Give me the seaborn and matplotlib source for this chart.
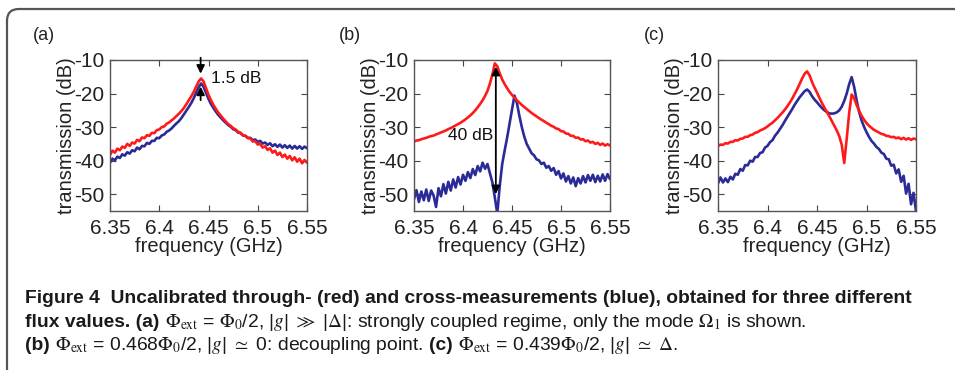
import numpy as np
import matplotlib
matplotlib.use("Agg")
import matplotlib.pyplot as plt
import seaborn as sns
from matplotlib import font_manager
from matplotlib.patches import FancyBboxPatch
from matplotlib.transforms import IdentityTransform

# frequency sampling (GHz), 0.0025 GHz steps
freq = np.linspace(6.35, 6.55, 81)

# (a) strongly coupled regime
red_a = [-38.3, -37.0, -37.6, -36.4, -36.9, -35.8, -36.2, -35.0, -35.6, -34.6,
         -34.9, -33.8, -34.2, -33.1, -33.3, -32.4, -32.6, -31.7, -31.8, -30.9,
         -30.7, -30.0, -29.8, -29.0, -28.6, -28.0, -27.4, -26.7, -26.0, -25.2,
         -24.3, -23.2, -22.0, -20.8, -19.5, -17.9, -16.4, -15.5, -16.4, -18.4,
         -20.4, -22.0, -23.4, -24.6, -25.7, -26.6, -27.5, -28.3, -29.1, -29.6,
         -30.3, -30.7, -31.4, -31.7, -32.4, -32.6, -33.3, -33.4, -34.3, -34.2,
         -35.2, -35.0, -36.1, -35.7, -36.8, -36.3, -37.6, -37.0, -38.3, -37.6,
         -38.9, -38.2, -39.4, -38.6, -39.9, -39.0, -40.3, -39.4, -40.8, -39.8,
         -40.6]
blue_a = [-40.6, -39.4, -39.9, -38.8, -39.2, -38.1, -38.5, -37.5, -37.9, -36.9,
          -37.2, -36.1, -36.6, -35.6, -35.7, -34.7, -35.0, -34.1, -34.1, -33.2,
          -33.3, -32.5, -32.2, -31.4, -31.0, -30.4, -29.6, -28.9, -28.2, -27.3,
          -26.2, -25.1, -24.0, -22.8, -21.4, -19.7, -18.1, -17.0, -18.0, -19.8,
          -21.6, -23.1, -24.3, -25.4, -26.4, -27.2, -28.0, -28.7, -29.4, -29.9,
          -30.6, -30.9, -31.6, -31.8, -32.5, -32.6, -33.2, -33.2, -33.9, -33.7,
          -34.4, -34.1, -34.9, -34.6, -35.3, -34.8, -35.7, -35.1, -35.9, -35.2,
          -36.1, -35.4, -36.2, -35.5, -36.4, -35.6, -36.4, -35.7, -36.5, -35.8,
          -36.3]

# (b) decoupling point
red_b = [-34.3, -34.0, -33.9, -33.6, -33.4, -33.2, -32.9, -32.7, -32.5, -32.2,
         -31.9, -31.6, -31.3, -31.0, -30.6, -30.3, -29.9, -29.5, -29.1, -28.7,
         -28.2, -27.7, -27.1, -26.5, -25.8, -25.0, -24.1, -23.1, -22.0, -20.7,
         -19.2, -17.0, -14.3, -11.0, -11.9, -14.0, -15.8, -17.2, -18.4, -19.5,
         -20.4, -21.2, -22.0, -22.7, -23.4, -24.0, -24.6, -25.2, -25.8, -26.3,
         -26.8, -27.3, -27.8, -28.2, -28.7, -29.1, -29.6, -29.9, -30.4, -30.6,
         -31.2, -31.3, -31.9, -32.0, -32.6, -32.6, -33.2, -33.1, -33.7, -33.6,
         -34.2, -34.0, -34.6, -34.4, -35.0, -34.7, -35.3, -34.9, -35.5, -35.1,
         -35.5]
blue_b = [-51.5, -48.8, -52.3, -49.2, -51.8, -48.6, -52.0, -48.9, -50.4, -53.8,
          -48.2, -50.6, -47.0, -49.8, -46.3, -48.9, -45.6, -48.0, -44.9, -47.1,
          -44.2, -46.0, -43.4, -45.2, -42.5, -44.3, -41.6, -43.2, -40.6, -42.4,
          -41.0, -43.8, -46.5, -51.0, -55.8, -47.5, -41.0, -37.0, -33.2, -29.0,
          -24.8, -20.6, -22.8, -26.6, -30.0, -32.8, -35.0, -36.4, -37.8, -38.4,
          -39.6, -39.9, -41.0, -40.6, -42.1, -41.6, -43.0, -42.2, -44.2, -43.1,
          -45.3, -43.8, -46.2, -44.6, -46.8, -45.0, -47.6, -45.2, -46.8, -44.6,
          -46.5, -44.3, -46.0, -44.2, -46.4, -44.5, -46.2, -44.1, -46.0, -44.0,
          -45.5]

# (c) |g| ~ Delta
red_c = [-35.7, -35.2, -35.3, -34.8, -34.9, -34.4, -34.4, -33.9, -34.0, -33.5,
         -33.4, -32.9, -32.9, -32.4, -32.2, -31.7, -31.5, -31.0, -30.7, -30.3,
         -29.8, -29.2, -28.7, -28.0, -27.3, -26.5, -25.7, -24.8, -23.8, -22.7,
         -21.5, -20.1, -18.7, -17.1, -15.5, -14.1, -13.4, -14.6, -16.6, -18.2,
         -19.7, -21.3, -22.8, -24.2, -25.5, -26.8, -28.2, -29.6, -31.0, -32.7,
         -35.3, -40.7, -33.5, -25.8, -20.3, -21.4, -23.4, -25.1, -26.6, -27.8,
         -28.8, -29.6, -30.2, -30.8, -31.2, -31.6, -32.0, -32.2, -32.6, -32.7,
         -33.0, -32.9, -33.3, -33.1, -33.6, -33.2, -33.7, -33.3, -33.8, -33.4,
         -33.6]
blue_c = [-46.8, -45.0, -46.5, -45.3, -46.4, -44.8, -45.6, -43.9, -44.2, -42.5,
          -43.0, -41.3, -41.4, -40.0, -40.3, -38.9, -38.9, -37.7, -37.5, -36.1,
          -35.6, -34.5, -33.9, -32.6, -31.7, -30.6, -29.5, -28.2, -27.0, -25.8,
          -24.6, -23.3, -22.2, -21.1, -20.2, -19.3, -18.8, -19.5, -20.8, -21.8,
          -22.6, -23.5, -24.3, -25.0, -25.5, -25.9, -26.0, -25.9, -25.6, -25.0,
          -23.9, -22.2, -20.0, -17.2, -15.1, -18.0, -22.0, -25.4, -28.0, -29.9,
          -31.5, -32.9, -34.1, -34.9, -35.9, -36.5, -37.6, -38.0, -39.4, -39.6,
          -41.5, -41.2, -43.8, -42.6, -46.3, -44.5, -49.8, -46.9, -53.0, -49.6,
          -55.0]

xticks = [6.35, 6.40, 6.45, 6.50, 6.55]
xtick_labels = ["6.35", "6.4", "6.45", "6.5", "6.55"]
yticks = [-50, -40, -30, -20, -10]
panel_tags = ["(a)", "(b)", "(c)"]

RED = "#ff1a1a"
BLUE = "#2b2b98"

sns.set_theme(style="ticks")
plt.rcParams["font.family"] = ["Liberation Sans", "DejaVu Sans"]
plt.rcParams["mathtext.fontset"] = "stix"
plt.rcParams["axes.unicode_minus"] = False

names = {f.name for f in font_manager.fontManager.ttflist}
cap_font = "Liberation Sans Narrow" if "Liberation Sans Narrow" in names else "Liberation Sans"

fig = plt.figure(figsize=(9.55, 3.70), dpi=100)
W, H = 955, 370

# rounded frame around the figure, cut by the page edge
frame = FancyBboxPatch((7, -60), 1100, 361 + 60, boxstyle="round,pad=0,rounding_size=12",
                       transform=IdentityTransform(), facecolor="none",
                       edgecolor="#555555", lw=1.6, clip_on=False)
fig.add_artist(frame)

lefts = [110, 414, 718]
widths = [197, 196, 198]
tag_x = [44, 350, 654]
curves = [(red_a, blue_a), (red_b, blue_b), (red_c, blue_c)]

axes = []
for i in range(3):
    ax = fig.add_axes([lefts[i] / W, 1 - 211 / H, widths[i] / W, 151 / H])
    red, blue = curves[i]
    sns.lineplot(x=freq, y=blue, ax=ax, color=BLUE, lw=1.9, estimator=None)
    sns.lineplot(x=freq, y=red, ax=ax, color=RED, lw=1.9, estimator=None)
    ax.set_xlim(6.35, 6.55)
    ax.set_ylim(-55, -10)
    ax.set_xticks(xticks)
    ax.set_xticklabels(xtick_labels)
    ax.set_yticks(yticks)
    ax.tick_params(direction="in", top=True, right=True, length=4, width=0.8,
                   labelsize=15, color="#444444", labelcolor="#222222")
    ax.tick_params(axis="x", pad=6)
    ax.tick_params(axis="y", pad=4)
    for s in ax.spines.values():
        s.set_visible(True)
        s.set_color("#555555")
        s.set_linewidth(1.0)
    ax.set_xlabel("frequency (GHz)", fontsize=14.5, labelpad=-1, color="#222222")
    ax.set_ylabel("transmission (dB)", fontsize=14.5, labelpad=-1, color="#222222")
    fig.text(tag_x[i] / W, 1 - 35 / H, panel_tags[i], fontsize=13, ha="center",
             va="center", color="#222222")
    axes.append(ax)

# (a) 1.5 dB arrows
ax = axes[0]
arw = dict(arrowstyle="-|>", color="black", lw=1.3, mutation_scale=12)
ax.annotate("", xy=(6.442, -14.9), xytext=(6.442, -8.5), arrowprops=arw, annotation_clip=False)
ax.annotate("", xy=(6.442, -17.1), xytext=(6.442, -22.8), arrowprops=arw, annotation_clip=False)
ax.text(6.4525, -15.4, "1.5 dB", fontsize=12.5, ha="left", va="center", color="#111111")

# (b) 40 dB arrow
ax = axes[1]
ax.annotate("", xy=(6.4335, -11.2), xytext=(6.4335, -50.8),
            arrowprops=dict(arrowstyle="<|-|>", color="black", lw=1.3, mutation_scale=12))
ax.text(6.4305, -32.5, "40 dB", fontsize=12.5, ha="right", va="center", color="#111111")

# caption
renderer = fig.canvas.get_renderer()
probe = fig.text(0, 0, "Figure 4  Uncalibrated through- (red) and cross-measurements (blue), "
                 "obtained for three different", fontsize=16, fontweight="bold", family=cap_font)
cap_size = 16 * 888 / probe.get_window_extent(renderer).width
probe.remove()


def caption_line(x0, base, pieces):
    x = x0
    for txt, weight, gap in pieces:
        t = fig.text(x / W, 1 - base / H, txt, fontsize=cap_size, fontweight=weight,
                     family=cap_font, va="baseline", ha="left", color="#1a1a1a")
        x += t.get_window_extent(renderer).width + gap * cap_size * 1.39


caption_line(25, 303, [("Figure 4  Uncalibrated through- (red) and cross-measurements (blue), "
                        "obtained for three different", "bold", 0)])
caption_line(25, 327, [("flux values. (a)", "bold", 0.28),
                       (r"$\Phi_{\rm ext}$ = $\Phi_0$/2, |$g$| $\gg$ |$\Delta$|: strongly coupled regime, "
                        r"only the mode $\Omega_1$ is shown.", "normal", 0)])
caption_line(25, 350, [("(b)", "bold", 0.28),
                       (r"$\Phi_{\rm ext}$ = 0.468$\Phi_0$/2, |$g$| $\simeq$ 0: decoupling point.",
                        "normal", 0.28),
                       ("(c)", "bold", 0.28),
                       (r"$\Phi_{\rm ext}$ = 0.439$\Phi_0$/2, |$g$| $\simeq$ $\Delta$.", "normal", 0)])

fig.savefig("out.png", dpi=100)
